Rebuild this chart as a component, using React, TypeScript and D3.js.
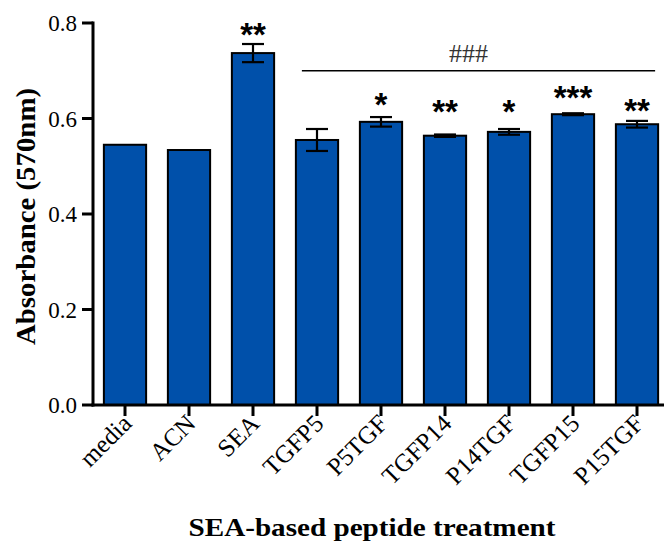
import React from "react";
import * as d3 from "d3";

// Absorbance at 570 nm for each SEA-based peptide treatment (mean ± SEM)
const categories = ["media", "ACN", "SEA", "TGFP5", "P5TGF", "TGFP14", "P14TGF", "TGFP15", "P15TGF"];
const means = [0.545, 0.534, 0.737, 0.555, 0.593, 0.564, 0.572, 0.609, 0.588];
const sems = [0, 0, 0.019, 0.023, 0.01, 0.0025, 0.006, 0.002, 0.007];
// Significance vs. media, and the level (in absorbance units) where each mark sits
const sigLabels = ["", "", "**", "", "*", "**", "*", "***", "**"];
const sigLevels = [0, 0, 0.789, 0, 0.644, 0.629, 0.629, 0.658, 0.63];
// Group comparison bracket over the peptide treatments
const groupFrom = "TGFP5";
const groupTo = "P15TGF";
const groupLabel = "###";
const groupLevel = 0.7;
const yTicks = [0, 0.2, 0.4, 0.6, 0.8];

const W = 664;
const H = 544;
const left = 93;
const top = 23;
const bottom = 405;

const serif = "'Liberation Serif', 'Times New Roman', serif";
const sans = "'Liberation Sans', Arial, sans-serif";

export default function App() {
  const y = d3.scaleLinear().domain([0, 0.8]).range([bottom, top]);
  const x = d3
    .scaleBand<string>()
    .domain(categories)
    .range([left, left + 576])
    .paddingInner(0.34)
    .paddingOuter(0.17);
  const bw = x.bandwidth();
  const capHalf = 11;
  const fill = "#0050aa";

  const gx0 = (x(groupFrom) as number) + 6;
  const gx1 = (x(groupTo) as number) + bw - 3;

  return (
    <svg
      width={W}
      height={H}
      style={{ position: "absolute", left: 0, top: 0, background: "#fff" }}
    >
      {/* bars */}
      {categories.map((c, i) => (
        <rect
          key={c}
          x={x(c)}
          y={y(means[i])}
          width={bw}
          height={y(0) - y(means[i])}
          fill={fill}
          stroke="#000"
          strokeWidth={2}
        />
      ))}

      {/* error bars */}
      {categories.map((c, i) => {
        if (!sems[i]) return null;
        const cx = (x(c) as number) + bw / 2;
        const hi = y(means[i] + sems[i]);
        const lo = y(means[i] - sems[i]);
        return (
          <g key={c} stroke="#000" strokeWidth={2.2}>
            <line x1={cx} x2={cx} y1={hi} y2={lo} />
            <line x1={cx - capHalf} x2={cx + capHalf} y1={hi} y2={hi} />
            <line x1={cx - capHalf} x2={cx + capHalf} y1={lo} y2={lo} />
          </g>
        );
      })}

      {/* significance stars */}
      {categories.map((c, i) =>
        sigLabels[i] ? (
          <text
            key={c}
            x={(x(c) as number) + bw / 2}
            y={y(sigLevels[i])}
            dy="0.55em"
            textAnchor="middle"
            fontFamily={sans}
            fontWeight="bold"
            fontSize={33}
            fill="#000"
          >
            {sigLabels[i]}
          </text>
        ) : null
      )}

      {/* group bracket */}
      <line x1={gx0} x2={gx1} y1={y(groupLevel)} y2={y(groupLevel)} stroke="#000" strokeWidth={1.6} />
      <text
        x={(gx0 + gx1) / 2 - 10}
        y={y(groupLevel) - 9}
        textAnchor="middle"
        fontFamily={serif}
        fontSize={26}
        fill="#333"
      >
        {groupLabel}
      </text>

      {/* y axis */}
      <line x1={left} x2={left} y1={y(0.8) - 1.5} y2={y(0) + 1.5} stroke="#000" strokeWidth={3} />
      {yTicks.map((t) => (
        <g key={t}>
          <line x1={left - 11} x2={left} y1={y(t)} y2={y(t)} stroke="#000" strokeWidth={3} />
          <text
            x={left - 16}
            y={y(t)}
            dy="0.35em"
            textAnchor="end"
            fontFamily={serif}
            fontSize={23}
            fill="#000"
          >
            {t.toFixed(1)}
          </text>
        </g>
      ))}

      {/* x axis */}
      <line x1={left - 1.5} x2={W} y1={y(0)} y2={y(0)} stroke="#000" strokeWidth={3} />
      {categories.map((c) => {
        const cx = (x(c) as number) + bw / 2;
        return (
          <g key={c}>
            <line x1={cx} x2={cx} y1={y(0)} y2={y(0) + 11} stroke="#000" strokeWidth={3} />
            <text
              transform={`translate(${cx + 8},${y(0) + 20}) rotate(-45)`}
              textAnchor="end"
              fontFamily={serif}
              fontSize={25}
              fill="#000"
            >
              {c}
            </text>
          </g>
        );
      })}

      {/* axis titles */}
      <text
        transform={`translate(35,${(88 + 345) / 2}) rotate(-90)`}
        textAnchor="middle"
        fontFamily={serif}
        fontWeight="bold"
        fontSize={28}
        textLength={257}
        lengthAdjust="spacingAndGlyphs"
        fill="#000"
      >
        Absorbance (570nm)
      </text>
      <text
        x={372}
        y={536}
        textAnchor="middle"
        fontFamily={serif}
        fontWeight="bold"
        fontSize={26}
        textLength={367}
        lengthAdjust="spacingAndGlyphs"
        fill="#000"
      >
        SEA-based peptide treatment
      </text>
    </svg>
  );
}
